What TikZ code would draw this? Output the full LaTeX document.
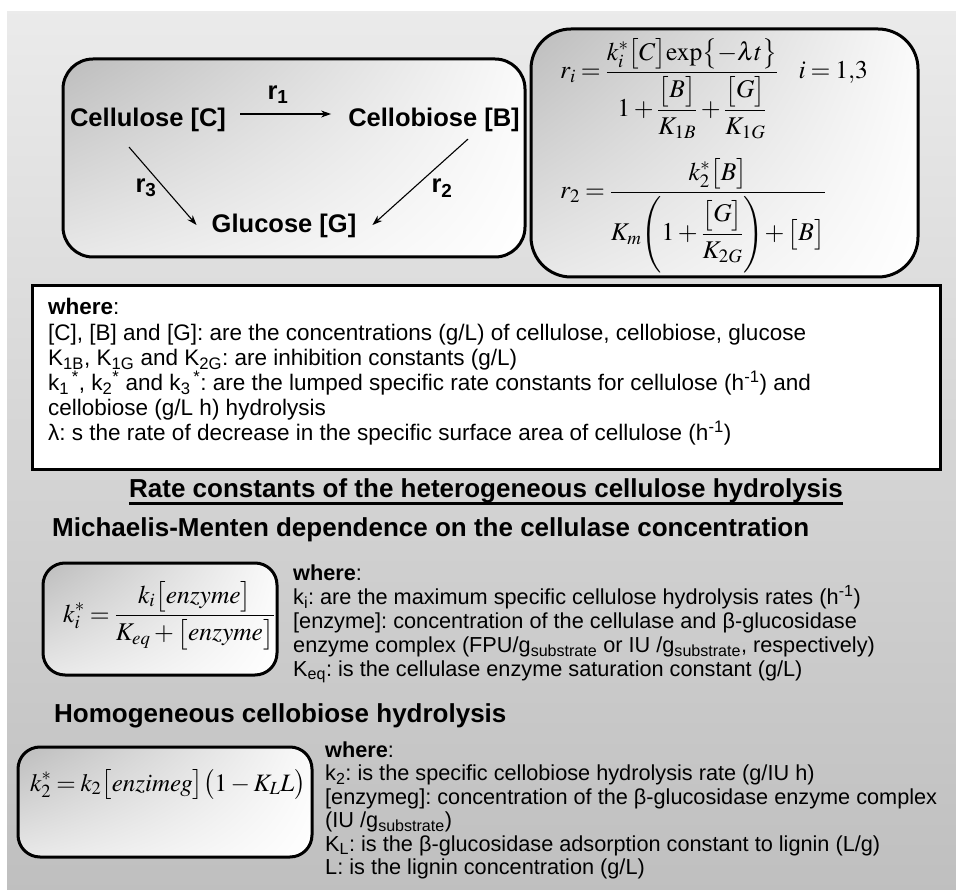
\documentclass[tikz,border=0pt]{standalone}
\usepackage{amsmath}
\usepackage{mathptmx}
\usepackage[no-math]{fontspec}
\setmainfont{Liberation Sans}
\usetikzlibrary{arrows.meta,calc,shadings}
\newcommand{\tightmath}{\medmuskip=2.5mu\relax\thickmuskip=3.5mu\relax}
\begin{document}
\frenchspacing
\begin{tikzpicture}[x=1pt,y=-1pt,
  boldtxt/.style={font=\fontsize{25.5}{30}\selectfont\bfseries, inner sep=0pt},
  headtxt/.style={font=\fontsize{26}{30}\selectfont\bfseries, inner sep=0pt},
  bodytxt/.style={font=\fontsize{22.5}{26}\selectfont, inner sep=0pt, anchor=base west},
  lowtxt/.style={font=\fontsize{21.7}{26}\selectfont, inner sep=0pt, anchor=base west},
  eqn/.style={font=\fontsize{25.5}{30}\selectfont, inner sep=0pt, anchor=base west},
  roundbox/.style={draw=black, line width=3pt, upper left=black!26, lower left=black!9, upper right=black!2, lower right=white},
  arr/.style={line width=1.1pt, -{Stealth[length=10pt,width=7pt]}}
]
% background
\fill[white] (0,0) rectangle (956,890);
\shade[top color=black!8, bottom color=black!25] (7,12) rectangle (956,890);
\useasboundingbox (0,0) rectangle (956,890);

% frames
\shadedraw[roundbox, rounded corners=30pt] (63,59) rectangle (525,257);
\shadedraw[roundbox, rounded corners=40pt] (531,29) rectangle (918,277);
\draw[line width=3pt, fill=white] (32,286) rectangle (940,469);
\shadedraw[roundbox, rounded corners=22pt] (43,563) rectangle (277,675);
\shadedraw[roundbox, rounded corners=22pt] (18,747) rectangle (312,857);

% reaction scheme
\node[boldtxt] (C) at (148,120) {Cellulose [C]};
\node[boldtxt] (B) at (434,120) {Cellobiose [B]};
\node[boldtxt] (G) at (284,226) {Glucose [G]};
\node[boldtxt] (r1) at (278,95) {r\textsubscript{1}};
\node[boldtxt] (r3) at (146,188) {r\textsubscript{3}};
\node[boldtxt] (r2) at (442,188) {r\textsubscript{2}};
\draw[arr] ($(C.east)+(14,-6)$) -- ($(B.west)+(-17,-6)$);
\draw[arr] ($(C.south)+(-19,15)$) -- ($(G.west)+(-15,-1)$);
\draw[arr] ($(B.south)+(34,7)$) -- ($(G.east)+(16,-1)$);

% rate equations
\node[eqn] (ri) at (560,79) {$\tightmath\displaystyle r_i=\frac{k_i^*\bigl[C\bigr]\mathrm{exp}\bigl\{-\lambda t\bigr\}}{1+\dfrac{\bigl[B\bigr]}{K_{1B}}+\dfrac{\bigl[G\bigr]}{K_{1G}}}\hspace{20pt}i=1{,}3$};
\node[eqn] (rtwo) at (560,199) {$\tightmath\displaystyle r_2=\frac{k_2^*\bigl[B\bigr]}{K_m\!\left(1+\dfrac{\bigl[G\bigr]}{K_{2G}}\right)\!+\bigl[B\bigr]}$};

% where box
\node[bodytxt] (w1) at (48,315) {\textbf{where}:};
\node[bodytxt] (w2) at (48,340.2) {[C], [B] and [G]: are the concentrations (g/L) of cellulose, cellobiose, glucose};
\node[bodytxt] (w3) at (48,365.4) {K\textsubscript{1B}, K\textsubscript{1G} and K\textsubscript{2G}: are inhibition constants (g/L)};
\node[bodytxt] (w4) at (48,390.6) {k\textsubscript{1}\textsuperscript{\,*}, k\textsubscript{2}\textsuperscript{*} and k\textsubscript{3}\textsuperscript{\,*}: are the lumped specific rate constants for cellulose (h\textsuperscript{-1}) and};
\node[bodytxt] (w5) at (48,415.8) {cellobiose (g/L h) hydrolysis};
\node[bodytxt] (w6) at (48,441) {λ: s the rate of decrease in the specific surface area of cellulose (h\textsuperscript{-1})};

% headings
\node[headtxt, anchor=base] (H) at (486,497) {Rate constants of the heterogeneous cellulose hydrolysis};
\draw[line width=3pt] ($(H.base west)+(0,6)$) -- ($(H.base east)+(0,6)$);
\node[headtxt, anchor=base west] (M) at (52,536) {Michaelis-Menten dependence on the cellulase concentration};
\node[headtxt, anchor=base west] (Hom) at (54,722) {Homogeneous cellobiose hydrolysis};

% Michaelis-Menten block
\node[eqn] (ki) at (63,622) {$\tightmath\displaystyle k_i^*=\frac{k_i\bigl[enzyme\bigr]}{K_{eq}+\bigl[enzyme\bigr]}$};
\node[lowtxt] (a1) at (293,580) {\textbf{where}:};
\node[lowtxt] (a2) at (293,604) {k\textsubscript{i}: are the maximum specific cellulose hydrolysis rates (h\textsuperscript{-1})};
\node[lowtxt] (a3) at (293,628) {[enzyme]: concentration of the cellulase and β-glucosidase};
\node[lowtxt] (a4) at (293,652) {enzyme complex (FPU/g\textsubscript{substrate} or IU /g\textsubscript{substrate}, respectively)};
\node[lowtxt] (a5) at (293,676) {K\textsubscript{eq}: is the cellulase enzyme saturation constant (g/L)};

% homogeneous block
\node[eqn, font=\fontsize{25}{30}\selectfont] (ktwo) at (30,791) {$\tightmath\displaystyle k_2^*=k_2\bigl[enzimeg\bigr]\bigl(1-K_LL\bigr)$};
\node[lowtxt] (b1) at (325,757) {\textbf{where}:};
\node[lowtxt] (b2) at (325,780.5) {k\textsubscript{2}: is the specific cellobiose hydrolysis rate (g/IU h)};
\node[lowtxt] (b3) at (325,804) {[enzymeg]: concentration of the β-glucosidase enzyme complex};
\node[lowtxt] (b4) at (325,827.5) {(IU /g\textsubscript{substrate})};
\node[lowtxt] (b5) at (325,851) {K\textsubscript{L}: is the β-glucosidase adsorption constant to lignin (L/g)};
\node[lowtxt] (b6) at (325,874.5) {L: is the lignin concentration (g/L)};
\end{tikzpicture}
\end{document}
